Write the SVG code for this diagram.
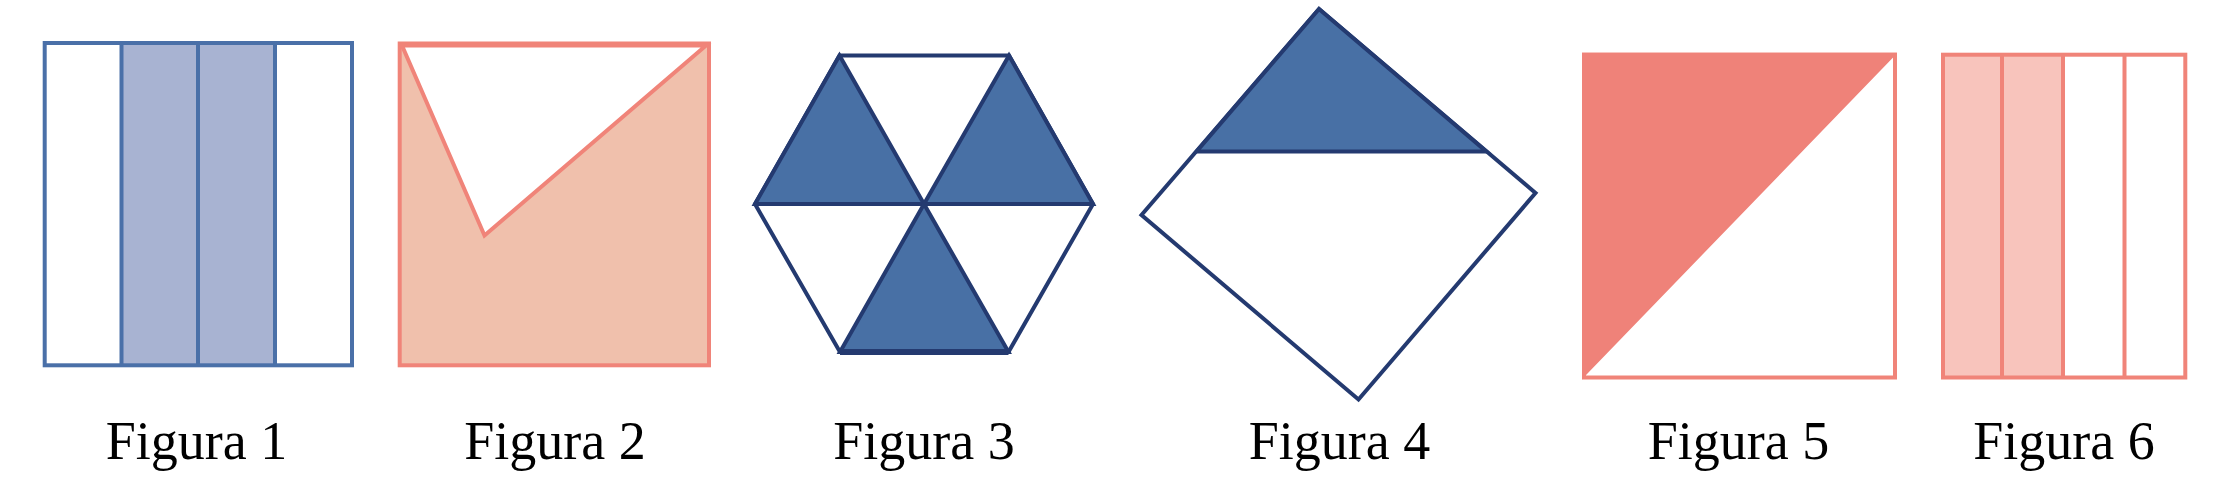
<svg xmlns="http://www.w3.org/2000/svg" width="2233" height="495" viewBox="0 0 2233 495">
<style>
.lbl{font-family:"Liberation Serif","Times New Roman",serif;font-size:54px;fill:#000;text-anchor:middle}
.b1{stroke:#4a70a8;stroke-width:4;fill:none}
.b1f{fill:#a8b3d2}
.navy{stroke:#243a70;stroke-width:4;stroke-linejoin:miter}
.blue{fill:#4870a5}
.pk{stroke:#f08479;stroke-width:4}
</style>
<rect width="2233" height="495" fill="#fff"/>
<g id="figura1">
<rect class="b1f" x="121.5" y="43" width="153.5" height="322.3"/>
<rect class="b1" x="44.7" y="43" width="307.3" height="322.3"/>
<line class="b1" x1="121.5" y1="43" x2="121.5" y2="365.3"/>
<line class="b1" x1="198" y1="43" x2="198" y2="365.3"/>
<line class="b1" x1="275" y1="43" x2="275" y2="365.3"/>
<text class="lbl" x="196.5" y="458.5">Figura 1</text>
</g>
<g id="figura2">
<rect class="pk" fill="#f0c0ac" x="399.7" y="43.5" width="309.3" height="321.8"/>
<polygon class="pk" fill="#fff" points="402,45.5 706,45.5 484.5,235.5" stroke-linejoin="miter"/>
<text class="lbl" x="555" y="458.5">Figura 2</text>
</g>
<g id="figura3">
<polygon class="navy" fill="#fff" points="839.5,55.5 1009,55.5 1093,204 1008.5,352 840,352 755,204"/>
<polygon class="navy blue" points="839.5,55.5 924,204 755,204"/>
<polygon class="navy blue" points="1009,55.5 1093,204 924,204"/>
<polygon class="navy blue" points="924,204 1008.5,352 840,352"/>
<line x1="840" y1="352" x2="1008.5" y2="352" stroke="#243a70" stroke-width="6"/>
<text class="lbl" x="924" y="458.5">Figura 3</text>
</g>
<g id="figura4">
<polygon class="navy" fill="#fff" points="1319,9 1535.5,193 1358.5,399.5 1141.5,215"/>
<polygon class="navy blue" points="1319,9 1486.3,151.5 1196.6,151.5"/>
<text class="lbl" x="1339.5" y="458.5">Figura 4</text>
</g>
<g id="figura5">
<rect class="pk" fill="#fff" x="1584" y="54.7" width="311" height="322.8"/>
<polygon fill="#ef8279" points="1582,52.7 1897,52.7 1893.8,56.7 1584.6,376.5 1582,379.5"/>
<text class="lbl" x="1738.5" y="458.5">Figura 5</text>
</g>
<g id="figura6">
<rect fill="#f8c4bc" x="1943" y="54.7" width="120" height="322.8"/>
<rect class="pk" fill="none" x="1943" y="54.7" width="242.3" height="322.8"/>
<line class="pk" x1="2002" y1="54.7" x2="2002" y2="377.5"/>
<line class="pk" x1="2063" y1="54.7" x2="2063" y2="377.5"/>
<line class="pk" x1="2124.5" y1="54.7" x2="2124.5" y2="377.5"/>
<text class="lbl" x="2064" y="458.5">Figura 6</text>
</g>
</svg>
